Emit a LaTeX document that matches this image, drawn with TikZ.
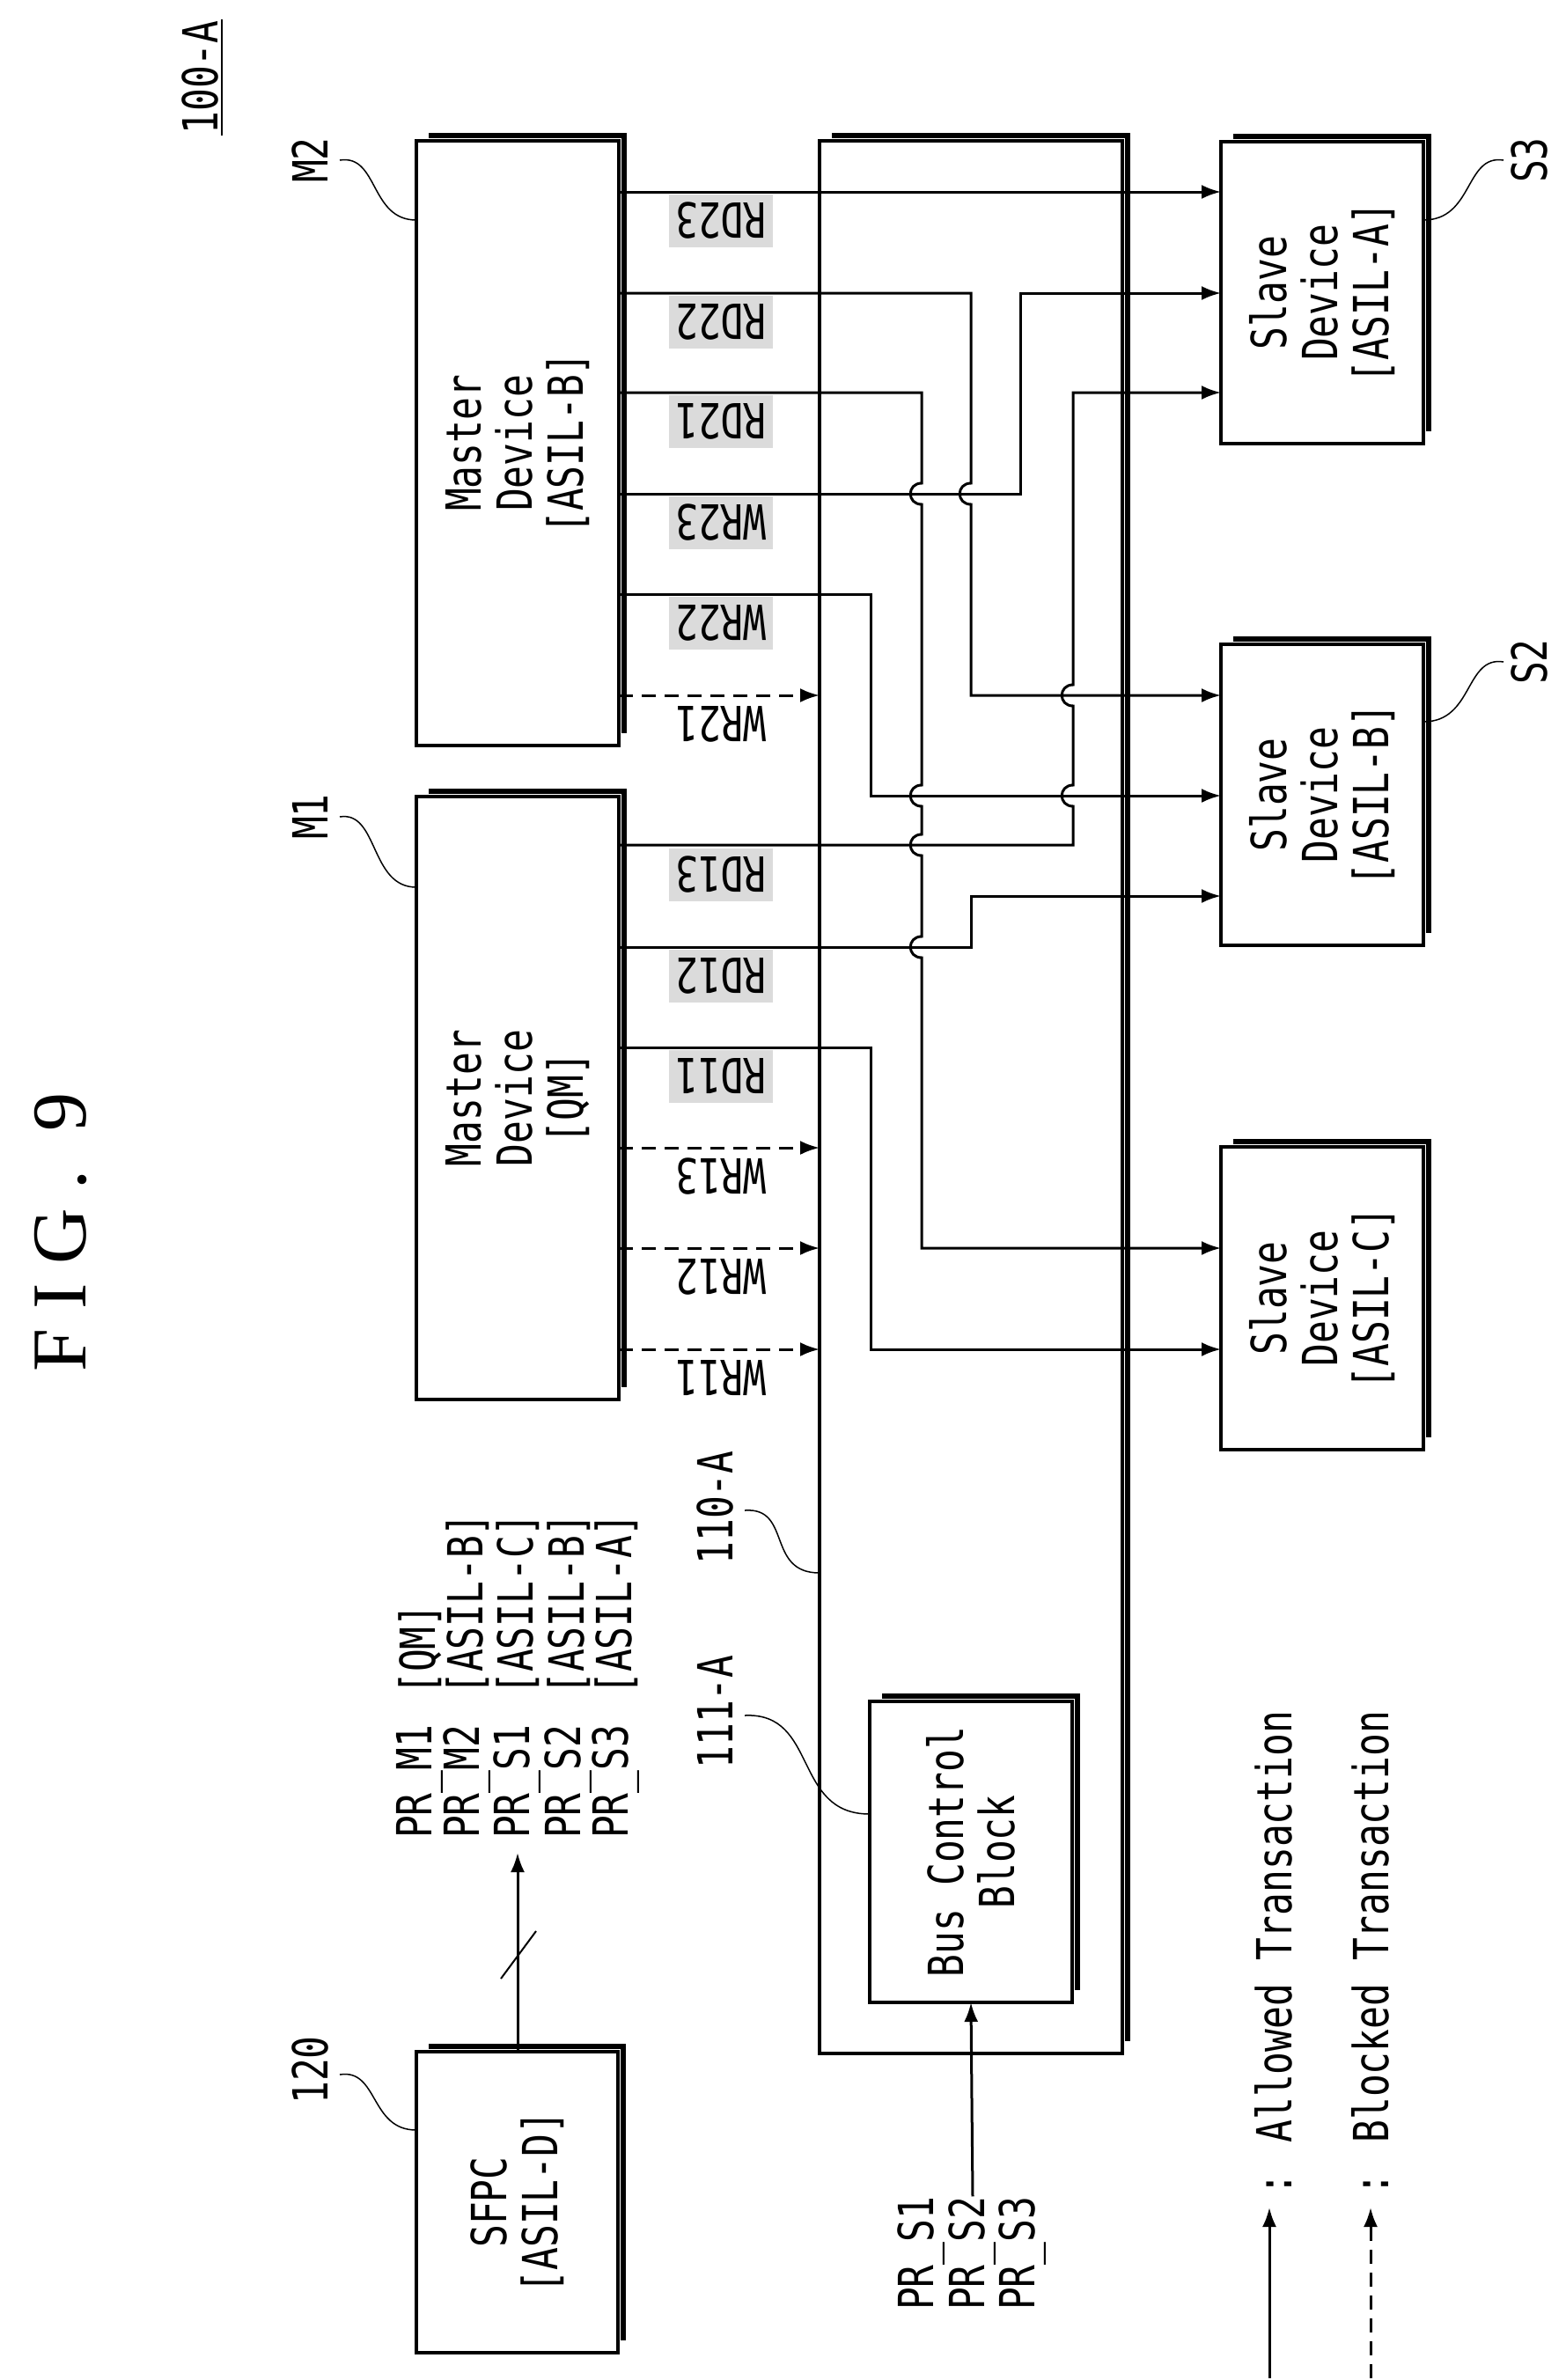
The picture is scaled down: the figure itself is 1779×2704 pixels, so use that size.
\documentclass[tikz,border=0pt]{standalone}
\usepackage{fontspec}
\setmainfont{DejaVu Sans Mono}[FakeStretch=0.78]
\newfontfamily\figfont{Liberation Serif}[LetterSpace=25]
\usetikzlibrary{arrows.meta}
\begin{document}
\begin{tikzpicture}[x=1pt,y=-1pt,
  box/.style={draw,line width=4,inner sep=0,outer sep=0,fill=white},
  shd/.style={line width=6},
  txt/.style={font=\fontsize{55}{58}\selectfont,align=center,rotate=90,inner sep=0},
  lab/.style={font=\fontsize{55}{58}\selectfont,rotate=180,inner sep=0,minimum width=118,minimum height=60},
  slab/.style={lab,fill=gray!28},
  con/.style={line width=3},
  arr/.style={con,-{Latex[length=22,width=16]}},
  darr/.style={arr,dash pattern=on 16 off 10},
  lead/.style={line width=1.5}]
\useasboundingbox (0,0) rectangle (1779,2704);
% boxes
\newcommand\mkbox[6]{%
  \node[box,minimum width=#4-#2,minimum height=#5-#3] (#1) at ({(#2+#4)/2},{(#3+#5)/2}) {};
  \draw[shd] ([xshift=14,yshift=6]#1.north west) -- ([xshift=6,yshift=6]#1.north east) -- ([xshift=6,yshift=14]#1.south east);
  \node[txt] (#1t) at (#1.center) {#6};}
\mkbox{m2}{473}{160}{703}{847}{Master\\Device\\{}[ASIL-B]}
\mkbox{m1}{473}{905}{703}{1590}{Master\\Device\\{}[QM]}
\mkbox{bus}{931}{160}{1275}{2333}{}
\mkbox{s3}{1387}{161}{1617}{504}{Slave\\Device\\{}[ASIL-A]}
\mkbox{s2}{1387}{732}{1617}{1074}{Slave\\Device\\{}[ASIL-B]}
\mkbox{s1}{1387}{1303}{1617}{1647}{Slave\\Device\\{}[ASIL-C]}
\mkbox{bcb}{988}{1933}{1218}{2275}{Bus Control\\Block}
\mkbox{sfpc}{473}{2331}{702}{2673}{SFPC\\{}[ASIL-D]}
% transaction labels
\node[slab] (lrd23) at (819,251) {RD23};
\node[slab] (lrd22) at (819,366) {RD22};
\node[slab] (lrd21) at (819,479) {RD21};
\node[slab] (lwr23) at (819,594) {WR23};
\node[slab] (lwr22) at (819,708) {WR22};
\node[lab] (lwr21) at (819,823) {WR21};
\node[slab] (lrd13) at (819,994) {RD13};
\node[slab] (lrd12) at (819,1109) {RD12};
\node[slab] (lrd11) at (819,1223) {RD11};
\node[lab] (lwr13) at (819,1337) {WR13};
\node[lab] (lwr12) at (819,1451) {WR12};
\node[lab] (lwr11) at (819,1566) {WR11};
% blocked writes
\draw[darr] (m2.east |- 0,790) -- (bus.west |- 0,790);
\draw[darr] (m1.east |- 0,1304) -- (bus.west |- 0,1304);
\draw[darr] (m1.east |- 0,1418) -- (bus.west |- 0,1418);
\draw[darr] (m1.east |- 0,1533) -- (bus.west |- 0,1533);
% allowed transactions
\draw[arr] (m2.east |- 0,218) -- (s3.west |- 0,218);
\draw[arr] (m2.east |- 0,333) -- (1103,333) -- (1103,549) .. controls (1086,549) and (1086,573) .. (1103,573) -- (1103,790) -- (s2.west |- 0,790);
\draw[arr] (m2.east |- 0,561) -- (1159,561) -- (1159,333) -- (s3.west |- 0,333);
\draw[arr] (m2.east |- 0,446) -- (1047,446) -- (1047,549) .. controls (1030,549) and (1030,573) .. (1047,573)
  -- (1047,892) .. controls (1030,892) and (1030,916) .. (1047,916)
  -- (1047,948) .. controls (1030,948) and (1030,972) .. (1047,972)
  -- (1047,1064) .. controls (1030,1064) and (1030,1088) .. (1047,1088)
  -- (1047,1418) -- (s1.west |- 0,1418);
\draw[arr] (m2.east |- 0,675) -- (989,675) -- (989,904) -- (s2.west |- 0,904);
\draw[arr] (m1.east |- 0,960) -- (1219,960) -- (1219,916) .. controls (1202,916) and (1202,892) .. (1219,892)
  -- (1219,802) .. controls (1202,802) and (1202,778) .. (1219,778) -- (1219,446) -- (s3.west |- 0,446);
\draw[arr] (m1.east |- 0,1076) -- (1103,1076) -- (1103,1018) -- (s2.west |- 0,1018);
\draw[arr] (m1.east |- 0,1190) -- (989,1190) -- (989,1533) -- (s1.west |- 0,1533);
% SFPC output
\node[txt,anchor=west] (p1) at (477,2089) {PR\_M1};
\node[txt,anchor=west] (p2) at (531,2089) {PR\_M2};
\node[txt,anchor=west] (p3) at (588,2089) {PR\_S1};
\node[txt,anchor=west] (p4) at (646,2089) {PR\_S2};
\node[txt,anchor=west] (p5) at (700,2089) {PR\_S3};
\node[txt,anchor=west] (q1) at (477,1926) {{}[QM]};
\node[txt,anchor=west] (q2) at (531,1926) {{}[ASIL-B]};
\node[txt,anchor=west] (q3) at (588,1926) {{}[ASIL-C]};
\node[txt,anchor=west] (q4) at (646,1926) {{}[ASIL-B]};
\node[txt,anchor=west] (q5) at (700,1926) {{}[ASIL-A]};
\coordinate (pt) at (588,2105);
\draw[arr] (sfpc.north -| pt) -- (pt);
\draw[line width=2] (569,2248) -- (609,2194);
% BCB input
\node[txt,anchor=west] (i1) at (1047,2625) {PR\_S1};
\node[txt,anchor=west] (i2) at (1105,2625) {PR\_S2};
\node[txt,anchor=west] (i3) at (1162,2625) {PR\_S3};
\draw[arr] (i2.east) -- (bcb.south);
% reference labels
\node[txt] (l100) at (227,88) {100-A};
\draw[line width=2] (252,22) -- (252,154);
\node[txt] (lm2) at (352,182) {M2};
\node[txt] (lm1) at (352,928) {M1};
\node[txt] (ls3) at (1737,182) {S3};
\node[txt] (ls2) at (1737,752) {S2};
\node[txt] (l120) at (352,2352) {120};
\node[txt] (l110) at (812,1713) {110-A};
\node[txt] (l111) at (812,1945) {111-A};
\draw[lead] (386,182) .. controls (430,175) and (420,250) .. (m2.west |- 0,250);
\draw[lead] (386,928) .. controls (430,921) and (420,1008) .. (m1.west |- 0,1008);
\draw[lead] (1708,182) .. controls (1664,175) and (1674,250) .. (s3.east |- 0,250);
\draw[lead] (1708,752) .. controls (1664,745) and (1674,820) .. (s2.east |- 0,820);
\draw[lead] (386,2357) .. controls (430,2350) and (420,2420) .. (sfpc.west |- 0,2420);
\draw[lead] (846,1716) .. controls (900,1712) and (870,1787) .. (bus.west |- 0,1787);
\draw[lead] (846,1949) .. controls (930,1945) and (900,2061) .. (bcb.west |- 0,2061);
% title
\node[rotate=90,font=\figfont\fontsize{88}{90}\selectfont,inner sep=0] (fig) at (69,1400) {FIG. 9};
% legend
\coordinate (la1) at (1442,2702); \coordinate (la2) at (1442,2508);
\coordinate (lb1) at (1557,2702); \coordinate (lb2) at (1557,2508);
\draw[arr] (la1) -- (la2);
\draw[darr] (lb1) -- (lb2);
\node[txt,anchor=west] (lega) at (1447,2495) {: Allowed Transaction};
\node[txt,anchor=west] (legb) at (1557,2495) {: Blocked Transaction};
\end{tikzpicture}
\end{document}
